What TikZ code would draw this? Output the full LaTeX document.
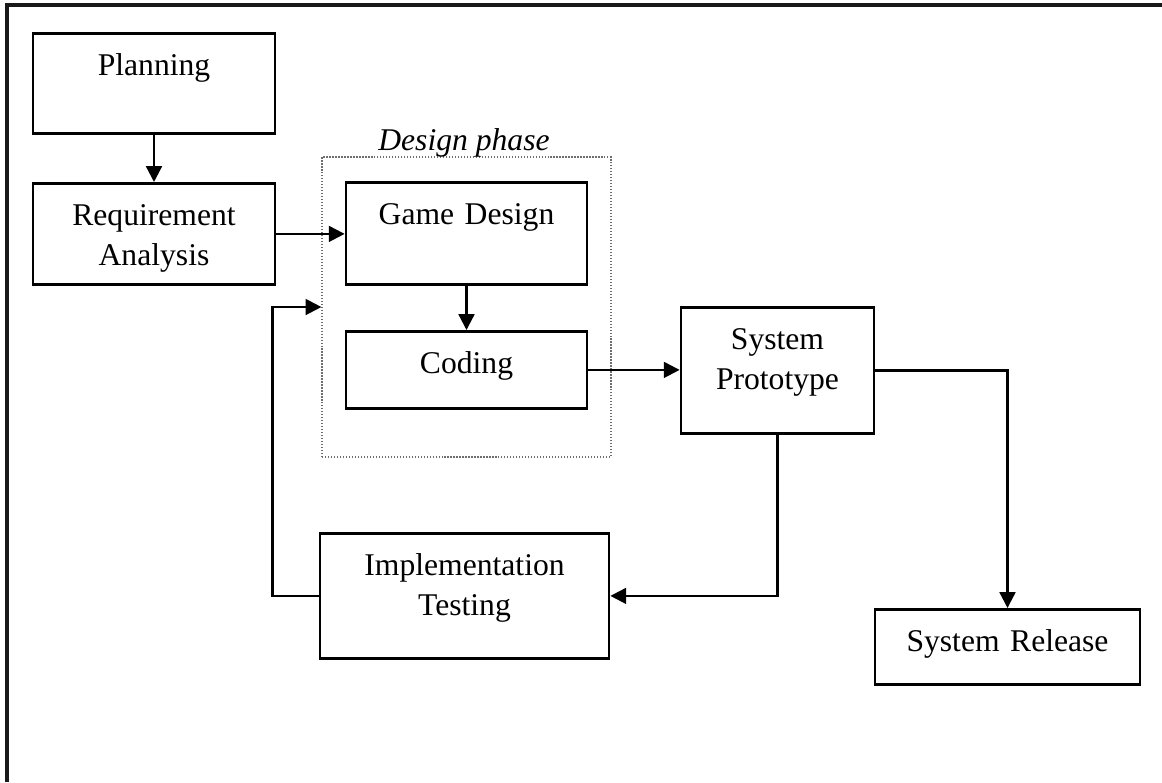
\documentclass[tikz,border=0pt]{standalone}
\usepackage{fontspec}
\setmainfont{Liberation Serif}
\usetikzlibrary{arrows.meta, calc}
\definecolor{framegray}{RGB}{25,25,25}
\definecolor{dotgray}{RGB}{110,110,110}
\newcommand{\stagefont}{\fontsize{18pt}{22.8pt}\selectfont}

\begin{document}
\begin{tikzpicture}[
    x=0.02cm, y=-0.02cm,
    >={Triangle[length=9pt, width=9pt]},
    stage/.style={rectangle, draw=black, line width=1.6pt, anchor=north, align=center, inner sep=0pt, font=\stagefont, text height=0.84cm},
    flow/.style={->, line width=1.3pt},
    phase/.style={rectangle, draw=dotgray, densely dotted, line width=0.7pt, inner sep=0pt}
  ]
  \useasboundingbox (0,0) rectangle (1162,782);

  % page frame (cut off at right and bottom)
  \draw[line width=1.8pt, draw=framegray] (7,782) -- (7,5) -- (1162,5);

  % Design phase group
  \node[phase, minimum width=5.78cm, minimum height=6cm] (design) at (466.5,307) {};
  \node[anchor=base, font=\stagefont\itshape] (phaselabel) at (464,150) {Design phase};

  % Stages
  \node[stage, text width=4.84cm, text depth=1.16cm] (plan) at (154,32) {Planning};
  \node[stage, text width=4.84cm, text depth=1.18cm] (req) at (154,182) {Requirement\\Analysis};
  \node[stage, text width=4.82cm, text depth=1.2cm] (game) at (466.5,181) {Game Design};
  \node[stage, text width=4.82cm, text depth=0.7cm] (coding) at (466.5,330) {Coding};
  \node[stage, text width=3.86cm, text depth=1.68cm] (proto) at (777.5,306) {System\\Prototype};
  \node[stage, text width=5.78cm, text depth=1.66cm] (impl) at (464.5,532) {Implementation\\Testing};
  \node[stage, text width=5.3cm, text depth=0.66cm] (release) at (1007.5,608) {System Release};

  % Flow
  \draw[flow] (plan.south) -- (req.north);
  \draw[flow] (req.east) -- (req.east -| game.west);
  \draw[flow] (game.south) -- (coding.north);
  \draw[flow] (coding.east) -- (coding.east -| proto.west);
  \draw[flow] (proto.south) |- (impl.east);
  \draw[flow] (proto.east) -| (release.north);

  % Feedback into design phase
  \draw[flow] (impl.west) -- ++(-46,0) |- (design.west);

\end{tikzpicture}
\end{document}
